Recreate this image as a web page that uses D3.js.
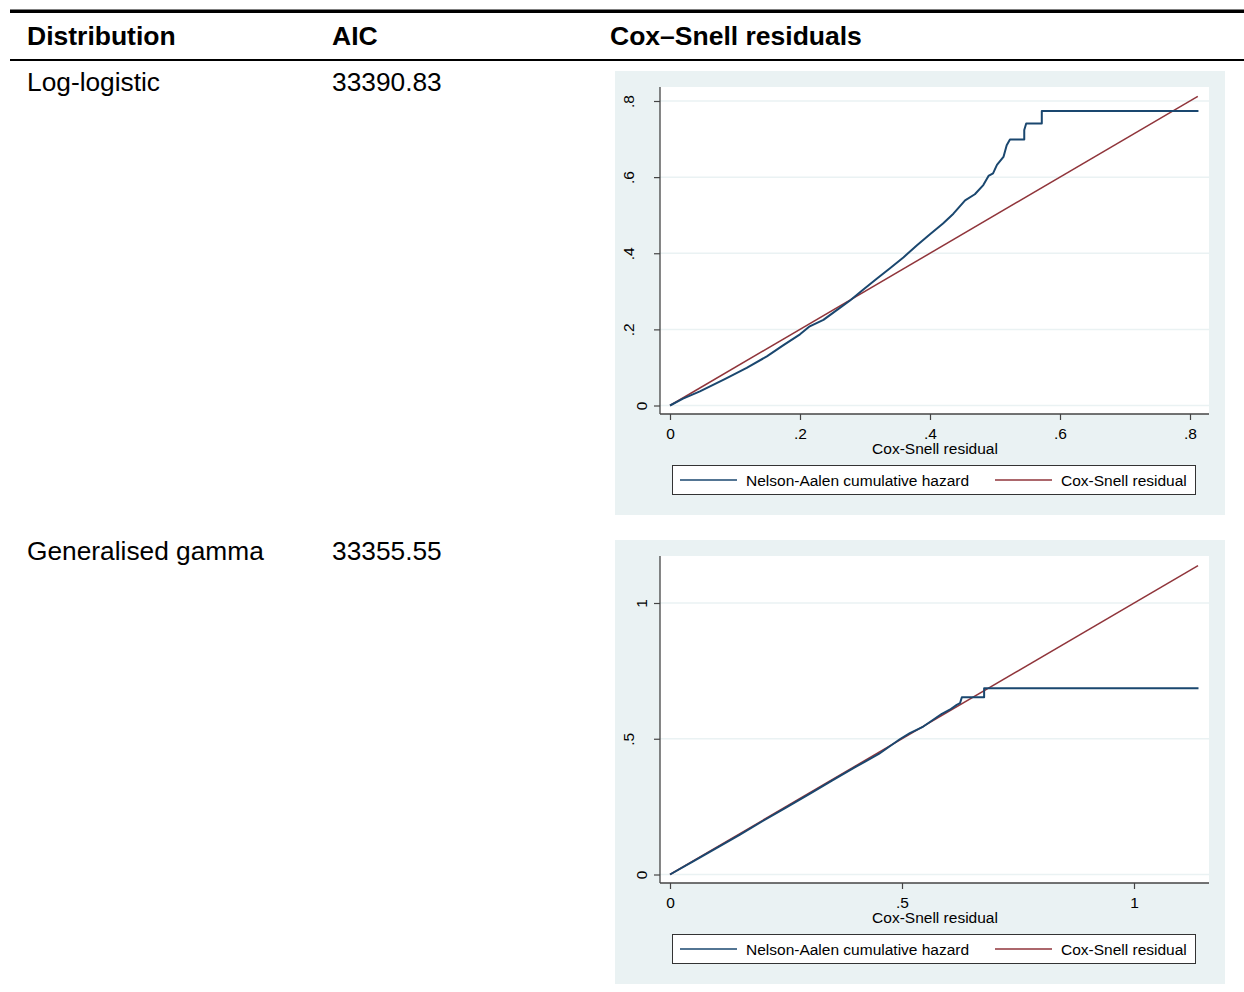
<!DOCTYPE html>
<html>
<head>
  <meta charset="utf-8">
  <title>Cox-Snell residuals</title>
  <script src="https://cdnjs.cloudflare.com/ajax/libs/d3/7.8.5/d3.min.js"></script>
  <style>
    body { margin: 0; background: #fff; }
    text { font-family: "Liberation Sans", Arial, sans-serif; }
  </style>
</head>
<body>
  <div id="vis"></div>
  <script>
var W = 1244, H = 992;

// table contents
var headers = ["Distribution", "AIC", "Cox\u2013Snell residuals"];
var distributions = ["Log-logistic", "Generalised gamma"];
var aic = [33390.83, 33355.55];

// log-logistic panel
var xTicks1 = [0, 0.2, 0.4, 0.6, 0.8];
var yTicks1 = [0, 0.2, 0.4, 0.6, 0.8];
var csMax1 = 0.812;
var naX1 = [0, 0.020, 0.046, 0.085, 0.118, 0.149, 0.174, 0.200, 0.215, 0.236,
            0.256, 0.277, 0.297, 0.318, 0.338, 0.359, 0.380, 0.400, 0.420, 0.436,
            0.454, 0.469, 0.482, 0.490, 0.497, 0.503, 0.513, 0.518, 0.523, 0.545,
            0.545, 0.548, 0.572, 0.572, 0.813];
var naY1 = [0, 0.018, 0.037, 0.070, 0.099, 0.129, 0.158, 0.187, 0.208, 0.225,
            0.250, 0.276, 0.304, 0.333, 0.360, 0.389, 0.421, 0.450, 0.478, 0.504,
            0.539, 0.555, 0.579, 0.603, 0.610, 0.632, 0.653, 0.684, 0.699, 0.699,
            0.724, 0.741, 0.741, 0.774, 0.774];

// generalised gamma panel
var xTicks2 = [0, 0.5, 1];
var yTicks2 = [0, 0.5, 1];
var csMax2 = 1.138;
var naX2 = [0, 0.05, 0.10, 0.15, 0.20, 0.25, 0.30, 0.35, 0.40, 0.45,
            0.496, 0.517, 0.546, 0.586, 0.603, 0.618, 0.625, 0.629, 0.677, 0.677, 1.139];
var naY2 = [0, 0.048, 0.097, 0.146, 0.197, 0.246, 0.296, 0.347, 0.396, 0.444,
            0.499, 0.521, 0.545, 0.592, 0.607, 0.625, 0.631, 0.653, 0.653, 0.686, 0.686];

var legendLabels = ["Nelson-Aalen cumulative hazard", "Cox-Snell residual"];
var xTitle = "Cox-Snell residual";

var navy = "#1a476f", maroon = "#90353b", panelBg = "#eaf2f3";

// stata style labels: .2 instead of 0.2
function fmt(d) { return d === 0 ? "0" : String(d).replace(/^0\./, "."); }

var svg = d3.select("div#vis").append("svg")
  .attr("width", W)
  .attr("height", H);

svg.append("rect").attr("width", W).attr("height", H).attr("fill", "#fff");

// table rules
svg.append("rect").attr("x", 10).attr("y", 9.5).attr("width", W - 10).attr("height", 3.5).attr("fill", "#000");
svg.append("rect").attr("x", 10).attr("y", 59).attr("width", W - 10).attr("height", 2).attr("fill", "#000");

var colX = [27, 332, 610];
svg.selectAll("text.head").data(headers).enter()
  .append("text")
  .attr("class", "head")
  .attr("x", function(d, i) { return colX[i]; })
  .attr("y", 45)
  .attr("font-size", 26.5)
  .attr("font-weight", "bold")
  .text(function(d) { return d; });

var rowY = [91, 560];
svg.selectAll("text.dist").data(distributions).enter()
  .append("text")
  .attr("x", colX[0])
  .attr("y", function(d, i) { return rowY[i]; })
  .attr("font-size", 26.3)
  .text(function(d) { return d; });

svg.selectAll("text.aic").data(aic).enter()
  .append("text")
  .attr("x", colX[1])
  .attr("y", function(d, i) { return rowY[i]; })
  .attr("font-size", 26.3)
  .text(function(d) { return d.toFixed(2); });

function drawPanel(top, xTicks, yTicks, naX, naY, csMax) {
  var g = svg.append("g").attr("transform", "translate(0," + top + ")");
  var pl = 660, pr = 1209, pt = 16, pb = 343;

  var x = d3.scaleLinear().domain([0, xTicks[xTicks.length - 1]])
    .range([670, 670 + (xTicks.length === 5 ? 520 : 464)]);
  var y = d3.scaleLinear().domain([0, yTicks[yTicks.length - 1]])
    .range([334.5, xTicks.length === 5 ? 30 : 63]);

  g.append("rect").attr("x", 615).attr("y", 0).attr("width", 610).attr("height", 444)
    .attr("fill", panelBg);
  g.append("rect").attr("x", pl).attr("y", pt).attr("width", pr - pl).attr("height", pb - pt)
    .attr("fill", "#fff");

  // gridlines
  g.selectAll("line.grid").data(yTicks).enter().append("line")
    .attr("x1", pl).attr("x2", pr)
    .attr("y1", function(d) { return y(d); })
    .attr("y2", function(d) { return y(d); })
    .attr("stroke", panelBg).attr("stroke-width", 1.5);

  // red reference line
  var line = d3.line()
    .x(function(d) { return x(d[0]); })
    .y(function(d) { return y(d[1]); });
  g.append("path")
    .datum([[0, 0], [csMax, csMax]])
    .attr("d", line)
    .attr("fill", "none").attr("stroke", maroon).attr("stroke-width", 1.5);

  // Nelson-Aalen
  var na = naX.map(function(v, i) { return [v, naY[i]]; });
  g.append("path")
    .datum(na)
    .attr("d", line)
    .attr("fill", "none").attr("stroke", navy).attr("stroke-width", 2)
    .attr("stroke-linejoin", "round");

  // axes
  var ya = g.append("g").attr("transform", "translate(" + pl + ",0)")
    .call(d3.axisLeft(y).tickValues(yTicks).tickSize(6).tickPadding(0).tickFormat(fmt));
  ya.select(".domain").remove();
  ya.selectAll(".tick line").attr("stroke", "#444").attr("stroke-width", 1.2);
  ya.selectAll(".tick text")
    .attr("x", null).attr("dy", null)
    .attr("text-anchor", "middle")
    .attr("fill", "#000")
    .attr("font-size", 15.5)
    .attr("font-family", "Liberation Sans, Arial, sans-serif")
    .attr("transform", function(d) {
      var off = fmt(d).charAt(0) === "." ? -26 : -13;
      return "translate(" + off + ",0) rotate(-90)";
    });

  var xa = g.append("g").attr("transform", "translate(0," + pb + ")")
    .call(d3.axisBottom(x).tickValues(xTicks).tickSize(6).tickPadding(2).tickFormat(fmt));
  xa.select(".domain").remove();
  xa.selectAll(".tick line").attr("stroke", "#444").attr("stroke-width", 1.2);
  xa.selectAll(".tick text")
    .attr("dy", null).attr("y", 24.5)
    .attr("fill", "#000")
    .attr("font-size", 15.5)
    .attr("font-family", "Liberation Sans, Arial, sans-serif");

  g.append("line").attr("x1", pl).attr("x2", pl).attr("y1", pt).attr("y2", pb)
    .attr("stroke", "#444").attr("stroke-width", 1.3);
  g.append("line").attr("x1", pl).attr("x2", pr).attr("y1", pb).attr("y2", pb)
    .attr("stroke", "#444").attr("stroke-width", 1.3);

  g.append("text")
    .attr("x", 935).attr("y", 382.5)
    .attr("text-anchor", "middle")
    .attr("font-size", 15.5)
    .text(xTitle);

  // legend
  var lg = g.append("g").attr("transform", "translate(672,394)");
  lg.append("rect").attr("x", 0.5).attr("y", 0.5).attr("width", 523).attr("height", 29)
    .attr("fill", "#fff").attr("stroke", "#333").attr("stroke-width", 1);
  var itemX = [8, 323];
  var itemC = [navy, maroon];
  lg.selectAll("line.key").data(legendLabels).enter().append("line")
    .attr("x1", function(d, i) { return itemX[i]; })
    .attr("x2", function(d, i) { return itemX[i] + 57; })
    .attr("y1", 15).attr("y2", 15)
    .attr("stroke", function(d, i) { return itemC[i]; })
    .attr("stroke-width", 1.5);
  lg.selectAll("text.key").data(legendLabels).enter().append("text")
    .attr("x", function(d, i) { return itemX[i] + 66; })
    .attr("y", 20.5)
    .attr("font-size", 15.5)
    .text(function(d) { return d; });
}

drawPanel(71, xTicks1, yTicks1, naX1, naY1, csMax1);
drawPanel(540, xTicks2, yTicks2, naX2, naY2, csMax2);
  </script>
</body>
</html>
